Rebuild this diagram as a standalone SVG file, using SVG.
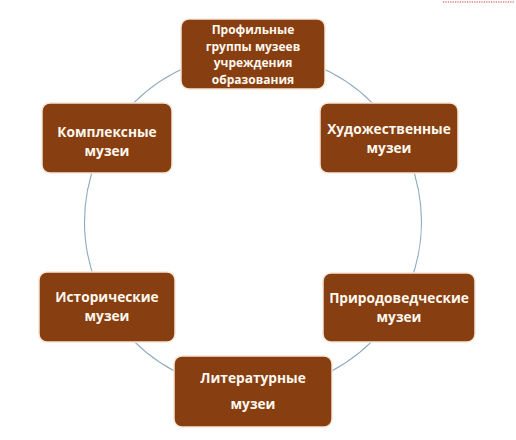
<svg xmlns="http://www.w3.org/2000/svg" width="516" height="440" viewBox="0 0 516 440">
<style>
.box{fill:#873e11;stroke:#f6e6d6;stroke-width:1.5}
.t{fill:#fff8ee;font-family:"Open Sans","Liberation Sans",sans-serif;font-weight:bold;font-size:13.7px;text-anchor:middle}
.ts{font-size:12px}
.ring{fill:none;stroke:#8fa9bf;stroke-width:1.1}
</style>
<rect width="516" height="440" fill="#ffffff"/>
<line x1="443" y1="2" x2="515" y2="2" stroke="#e07a7a" stroke-width="1.4" stroke-dasharray="1.2,1.2"/>
<g id="connectors">
<circle class="ring" cx="253" cy="222" r="168.5"/>
</g>
<g id="n-profile">
<rect class="box" x="181" y="19" width="144" height="70" rx="8"/>
<text class="t ts" x="253" y="34">Профильные</text>
<text class="t ts" x="253" y="50.6">группы музеев</text>
<text class="t ts" x="253" y="67.2">учреждения</text>
<text class="t ts" x="253" y="83.8">образования</text>
</g>
<g id="n-complex">
<rect class="box" x="42" y="103" width="130" height="70" rx="8"/>
<text class="t" x="107" y="137">Комплексные</text>
<text class="t" x="107" y="156">музеи</text>
</g>
<g id="n-art">
<rect class="box" x="320" y="103" width="138" height="70" rx="8"/>
<text class="t" x="389" y="134">Художественные</text>
<text class="t" x="389" y="153">музеи</text>
</g>
<g id="n-history">
<rect class="box" x="39" y="272" width="136" height="70" rx="8"/>
<text class="t" x="107" y="302">Исторические</text>
<text class="t" x="107" y="321">музеи</text>
</g>
<g id="n-nature">
<rect class="box" x="323" y="273" width="152" height="69" rx="8"/>
<text class="t" x="399" y="303">Природоведческие</text>
<text class="t" x="399" y="322">музеи</text>
</g>
<g id="n-literature">
<rect class="box" x="174" y="356" width="158" height="71" rx="8"/>
<text class="t" x="253" y="383">Литературные</text>
<text class="t" x="253" y="409">музеи</text>
</g>
</svg>
